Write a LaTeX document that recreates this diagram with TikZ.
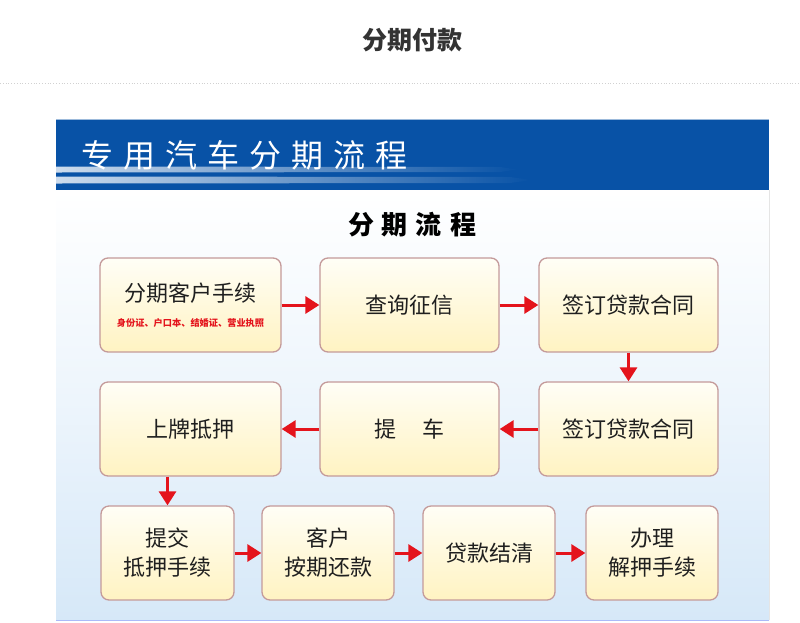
\documentclass[tikz,border=0pt]{standalone}
\usepackage{fontspec}
\newfontfamily\cjk{Noto Sans CJK SC}
\usetikzlibrary{arrows.meta}
\definecolor{hdrblue}{HTML}{0852A6}
\definecolor{boxborder}{HTML}{C49A9A}
\definecolor{boxtop}{HTML}{FFFEF6}
\definecolor{boxbot}{HTML}{FFF3C2}
\definecolor{arrred}{HTML}{E4141C}
\definecolor{bgblue}{HTML}{D6E8F8}
\definecolor{titlegray}{HTML}{333333}
\begin{document}
\begin{tikzpicture}[x=1pt,y=-1pt,
  stepbox/.style={draw=boxborder, line width=1.3pt, rounded corners=8pt,
    top color=boxtop, bottom color=boxbot, minimum height=94pt,
    align=center, inner sep=0pt, text=black!88,
    font=\cjk\fontsize{22}{29}\selectfont},
  arr/.style={draw=arrred, line width=3pt, -{Triangle[length=14pt,width=17pt]}},
  streak/.style={left color=white!80!hdrblue, right color=hdrblue, draw=none}
]
\useasboundingbox (0,0) rectangle (800,622);
\fill[white] (0,0) rectangle (800,622);
% page title
\node[font=\cjk\bfseries\fontsize{25}{30}\selectfont, text=titlegray] (title) at (412,40) {分期付款};
\draw[black!18, dotted, line width=0.8pt] (0,83) -- (800,83);
% panel
\shade[top color=white, bottom color=bgblue, middle color=white!55!bgblue] (56,190) rectangle (769,620);
\draw[black!10, line width=0.6pt] (769,190) -- (769,620);
\draw[bgblue!80!blue, line width=1pt] (56,620) -- (769,620);
% header
\fill[hdrblue] (56,119) rectangle (769,190);
\draw[white!60!hdrblue, line width=0.8pt] (56,119) -- (769,119);
\shade[streak] (56,166.5) -- (500,167) -- (518,169.5) -- (500,172) -- (56,172.5) -- cycle;
\shade[streak] (56,176.5) -- (510,177) -- (532,180) -- (510,183) -- (56,183.5) -- cycle;
\node[text=white, font=\cjk\fontsize{32}{36}\selectfont, anchor=west] (hdr) at (78,155)
  {专\hspace{10pt}用\hspace{10pt}汽\hspace{10pt}车\hspace{10pt}分\hspace{10pt}期\hspace{10pt}流\hspace{10pt}程};
\node[font=\cjk\bfseries\fontsize{26}{30}\selectfont, text=black] (sub) at (412,225)
  {分\hspace{8pt}期\hspace{8pt}流\hspace{8pt}程};
% boxes
\node[stepbox, minimum width=181pt] (b1) at (190.5,305)
  {分期客户手续\\[-4pt]{\color{arrred}\bfseries\fontsize{9.2}{11}\selectfont 身份证、户口本、结婚证、营业执照}};
\node[stepbox, minimum width=179pt] (b2) at (409.5,305) {查询征信};
\node[stepbox, minimum width=179pt] (b3) at (628.5,305) {签订贷款合同};
\node[stepbox, minimum width=181pt] (b4) at (190.5,429) {上牌抵押};
\node[stepbox, minimum width=179pt] (b5) at (409.5,429) {提\hspace{27pt}车};
\node[stepbox, minimum width=179pt] (b6) at (628.5,429) {签订贷款合同};
\node[stepbox, minimum width=133pt] (b7) at (167.5,553) {提交\\抵押手续};
\node[stepbox, minimum width=132pt] (b8) at (328,553) {客户\\按期还款};
\node[stepbox, minimum width=132pt] (b9) at (489,553) {贷款结清};
\node[stepbox, minimum width=132pt] (b10) at (652,553) {办理\\解押手续};
% arrows
\draw[arr] (b1.east) -- (b2.west);
\draw[arr] (b2.east) -- (b3.west);
\draw[arr] (b3.south) -- (b6.north);
\draw[arr] (b6.west) -- (b5.east);
\draw[arr] (b5.west) -- (b4.east);
\draw[arr] (b4.south -| b7.north) -- (b7.north);
\draw[arr] (b7.east) -- (b8.west);
\draw[arr] (b8.east) -- (b9.west);
\draw[arr] (b9.east) -- (b10.west);
\end{tikzpicture}
\end{document}
